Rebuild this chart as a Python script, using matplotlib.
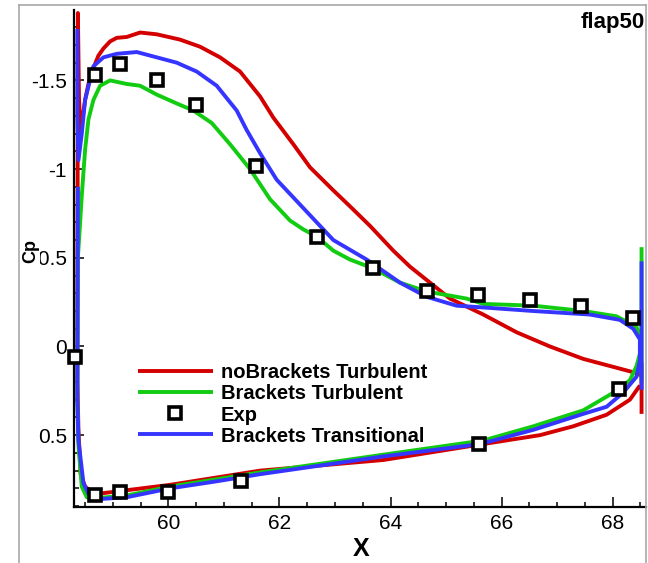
import matplotlib
matplotlib.use('Agg')
import matplotlib.pyplot as plt
from matplotlib.lines import Line2D
from matplotlib.ticker import MultipleLocator

plt.rcParams['font.family'] = ['Liberation Sans', 'DejaVu Sans']
plt.rcParams['axes.unicode_minus'] = False

nan = float('nan')

# Cp distributions (x, Cp); nan splits off the
# vertical trailing-edge segment from the surface loop
red_x = [68.52, 68.52, nan,
         68.49, 68.31, 67.89, 67.29, 66.69, 65.67, 63.87, 61.65, 60.03, 59.13,
         58.75, 58.62, 58.50, 58.42, 58.38, 58.36, 58.37, 58.39, 58.42, 58.46,
         58.50, 58.56, 58.65, 58.74, 58.83, 58.95, 59.07, 59.25, 59.49, 59.79,
         60.21, 60.57, 60.93, 61.29, 61.65, 61.89, 62.25, 62.55, 62.97, 63.27,
         63.63, 64.05, 64.35, 64.71, 65.07, 65.67, 66.27, 66.87, 67.47, 68.07,
         68.37, 68.50]
red_cp = [0.09, 0.38, nan,
          0.22, 0.30, 0.385, 0.45, 0.50, 0.55, 0.64, 0.70, 0.78, 0.815,
          0.83, 0.82, 0.79, 0.72, 0.47, 0.19, -1.88, -1.40, -1.20, -1.30,
          -1.39, -1.48, -1.57, -1.64, -1.68, -1.72, -1.74, -1.745, -1.77, -1.76,
          -1.73, -1.69, -1.63, -1.55, -1.41, -1.29, -1.14, -1.01, -0.88, -0.79,
          -0.68, -0.54, -0.45, -0.36, -0.27, -0.18, -0.08, 0.00, 0.07, 0.12,
          0.145, 0.16]

green_x = [68.52, 68.52, nan,
           68.49, 68.43, 68.07, 67.47, 66.57, 65.67, 65.37, 64.65, 64.17, 63.69,
           63.27, 62.97, 62.67, 62.43, 62.19, 61.83, 61.47, 61.11, 60.78, 60.45,
           60.15, 59.79, 59.49, 59.25, 58.95, 58.77, 58.65, 58.56, 58.50, 58.44,
           58.37, 58.36, 58.38, 58.44, 58.53, 58.71, 59.25, 60.03, 61.65, 63.87,
           65.67, 66.57, 67.47, 68.07, 68.31, 68.43, 68.49, 68.50]
green_cp = [-0.56, 0.20, nan,
            -0.05, -0.11, -0.17, -0.20, -0.23, -0.24, -0.27, -0.31, -0.36, -0.44,
            -0.49, -0.54, -0.62, -0.66, -0.71, -0.83, -1.00, -1.14, -1.26, -1.33,
            -1.37, -1.42, -1.47, -1.48, -1.50, -1.47, -1.39, -1.28, -1.11, -0.85,
            -0.50, 0.30, 0.56, 0.79, 0.85, 0.855, 0.84, 0.79, 0.71, 0.61,
            0.53, 0.45, 0.36, 0.25, 0.19, 0.11, 0.04, -0.05]

blue_x = [68.52, 68.52, nan,
          58.37, 58.36, 58.38, 58.47, 58.59, 58.77, 59.25, 60.03, 60.87, 61.65,
          63.87, 65.61, 66.57, 67.47, 67.89, 68.19, 68.43, 68.49, 68.49, 68.37,
          68.13, 67.59, 66.57, 65.67, 65.19, 64.65, 64.17, 63.57, 62.97, 62.73,
          62.37, 61.95, 61.65, 61.41, 61.23, 60.87, 60.51, 60.15, 59.79, 59.43,
          59.07, 58.83, 58.65, 58.50, 58.44, 58.38, 58.36, 58.36]
blue_cp = [-0.48, 0.244, nan,
           -0.90, 0.30, 0.53, 0.77, 0.85, 0.86, 0.85, 0.80, 0.76, 0.72,
           0.62, 0.55, 0.47, 0.38, 0.34, 0.26, 0.17, 0.075, -0.04, -0.10,
           -0.15, -0.18, -0.20, -0.22, -0.23, -0.28, -0.36, -0.49, -0.60, -0.68,
           -0.80, -0.94, -1.09, -1.22, -1.33, -1.47, -1.55, -1.60, -1.63, -1.66,
           -1.65, -1.63, -1.58, -1.39, -1.20, -1.05, -1.30, -1.79]

exp_x = [58.31, 58.68, 59.12, 59.80, 60.49, 61.58, 62.67, 63.68, 64.65, 65.58,
         66.51, 67.43, 68.37, 68.11, 65.60, 61.30, 60.00, 59.13, 58.68]
exp_cp = [0.06, -1.53, -1.59, -1.50, -1.36, -1.02, -0.62, -0.44, -0.31, -0.29,
          -0.26, -0.23, -0.16, 0.24, 0.55, 0.76, 0.82, 0.82, 0.84]

yticks = [-1.5, -1.0, -0.5, 0.0, 0.5]
ytick_labels = ['-1.5', '-1', '-0.5', '0', '0.5']
xticks = [60, 62, 64, 66, 68]

W, H = 648, 563
fig = plt.figure(figsize=(W / 100, H / 100), dpi=100)
ax = fig.add_axes([74 / W, 1 - 507 / H, (646 - 74) / W, (507 - 10) / H])

line_kw = dict(lw=2.8, solid_joinstyle='round', solid_capstyle='butt')
red, = ax.plot(red_x, red_cp, color='#d40000', zorder=2,
               label='noBrackets Turbulent', **line_kw)
green, = ax.plot(green_x, green_cp, color='#12cc12', zorder=3,
                 label='Brackets Turbulent', **line_kw)
blue, = ax.plot(blue_x, blue_cp, color='#3535ff', zorder=4,
                label='Brackets Transitional', **line_kw)
exp, = ax.plot(exp_x, exp_cp, ls='none', marker='s', ms=8.3, mew=2.6,
               mec='black', mfc='white', zorder=6, clip_on=False, label='Exp')

ax.set_xlim(58.30, 68.60)
ax.set_ylim(0.905, -1.897)

ax.set_xticks(xticks)
ax.set_yticks(yticks)
ax.set_yticklabels(ytick_labels)
ax.xaxis.set_minor_locator(MultipleLocator(0.5))
ax.yaxis.set_minor_locator(MultipleLocator(0.1))
ax.tick_params(which='both', direction='in', labelsize=15, width=1.1)
ax.tick_params(which='major', length=7.5, pad=5)
ax.tick_params(which='minor', length=3.8)
ax.tick_params(axis='x', which='both', top=False)
ax.tick_params(axis='y', which='both', right=False)

for side in ['top', 'right']:
    ax.spines[side].set_visible(False)
for side in ['left', 'bottom']:
    ax.spines[side].set_linewidth(1.6)

fig.text(361 / W, 1 - 549 / H, 'X', fontsize=18, fontweight='bold',
         ha='center', va='center')
fig.text(31 / W, 1 - 251 / H, 'Cp', fontsize=13, fontweight='bold',
         rotation=90, ha='center', va='center',
         bbox=dict(facecolor='white', edgecolor='none', pad=0.5))
fig.text(645 / W, 1 - 12 / H, 'flap50', fontsize=16, fontweight='bold',
         ha='right', va='top')

ax.legend(handles=[red, green, exp, blue], loc='center left',
          bbox_to_anchor=(138 / W, 1 - 404.5 / H), bbox_transform=fig.transFigure,
          frameon=False, borderpad=0, borderaxespad=0, handlelength=3.7,
          handletextpad=0.4, labelspacing=0.1,
          prop={'size': 14.5, 'weight': 'bold'})

# frame around the plot area
frame_kw = dict(color='#a8a8a8', lw=1.2, transform=fig.transFigure)
fig.add_artist(Line2D([19 / W, 646 / W], [1 - 5 / H, 1 - 5 / H], **frame_kw))
fig.add_artist(Line2D([19 / W, 19 / W], [0, 1 - 5 / H], **frame_kw))
fig.add_artist(Line2D([646 / W, 646 / W], [0, 1 - 5 / H], **frame_kw))

fig.savefig('out.png', dpi=100)
